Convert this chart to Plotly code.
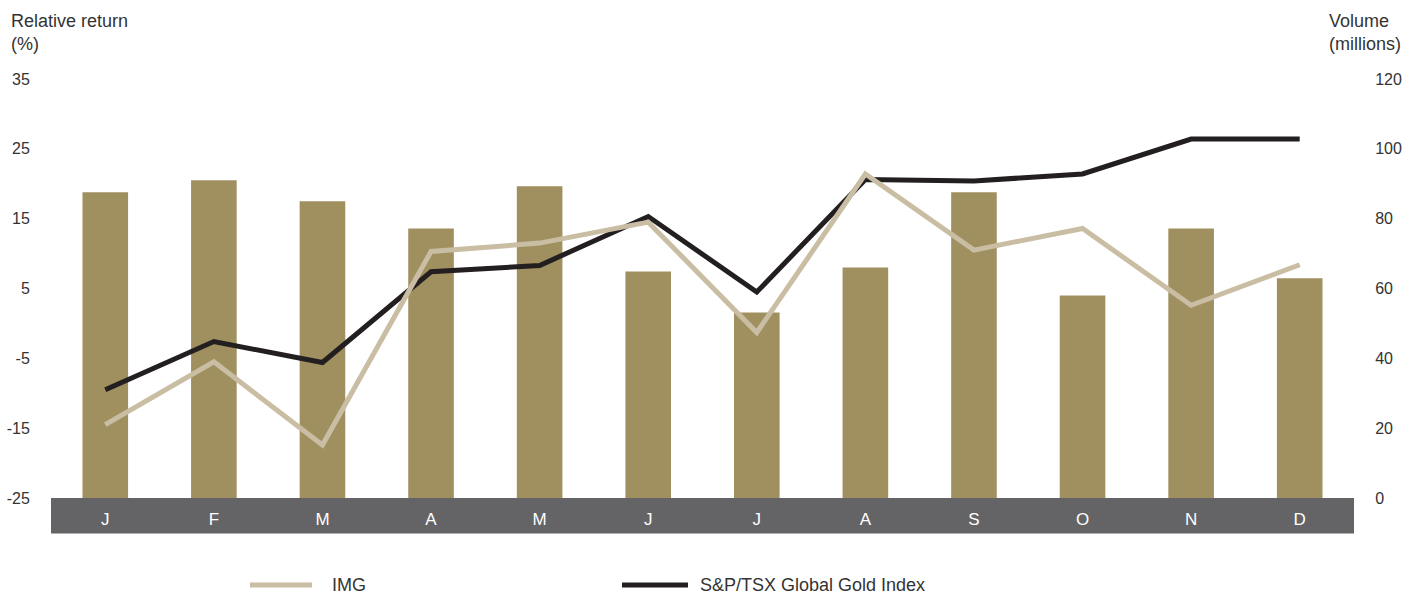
import plotly.graph_objects as go

# Monthly data
months = ["J", "F", "M", "A", "M", "J", "J", "A", "S", "O", "N", "D"]
volume_millions = [87.6, 91.0, 85.0, 77.2, 89.3, 64.9, 53.1, 66.0, 87.6, 58.0, 77.2, 62.9]
img_return = [-14.5, -5.5, -17.4, 10.3, 11.5, 14.5, -1.3, 21.4, 10.5, 13.6, 2.6, 8.4]
gold_index_return = [-9.5, -2.6, -5.6, 7.4, 8.3, 15.3, 4.5, 20.6, 20.4, 21.4, 26.4, 26.4]
series_names = ["IMG", "S&P/TSX Global Gold Index"]

left_ticks = [-25, -15, -5, 5, 15, 25, 35]
right_ticks = [0, 20, 40, 60, 80, 100, 120]

BAR = "#A08F5F"
BEIGE = "#C9BEA3"
BLACK = "#231F20"
BAND = "#646466"
TEXT = "#333333"
FONT = "Liberation Sans"

x_idx = list(range(len(months)))

fig = go.Figure()

# volume bars on the base (right-hand) axis so the return lines overlay them
fig.add_trace(go.Bar(
    x=x_idx, y=volume_millions, yaxis="y",
    marker=dict(color=BAR, line=dict(width=0)),
    width=0.42, showlegend=False, hoverinfo="skip",
))
fig.add_trace(go.Scatter(
    x=x_idx, y=gold_index_return, mode="lines", name=series_names[1], yaxis="y2",
    line=dict(color=BLACK, width=5), showlegend=False,
))
fig.add_trace(go.Scatter(
    x=x_idx, y=img_return, mode="lines", name=series_names[0], yaxis="y2",
    line=dict(color=BEIGE, width=5), showlegend=False,
))

W, H = 1405, 594
ML, MR, MT, MB = 51, 51, 79, 96
plot_h = H - MT - MB
band_px = 35.5

def px_to_paper_x(px):
    return (px - ML) / (W - ML - MR)
def px_to_paper_y(py):
    return (H - MB - py) / plot_h

shapes = [
    # dark band carrying the month labels
    dict(type="rect", xref="paper", yref="paper", x0=0, x1=1,
         y0=-band_px / plot_h, y1=0, fillcolor=BAND, line=dict(width=0),
         layer="below"),
]

# legend drawn with long line swatches
legend_y_px = 585
legend_items = [
    (series_names[0], BEIGE, 250, 312, 330),
    (series_names[1], BLACK, 622, 688, 698),
]
annotations = []
for name, color, x0, x1, tx in legend_items:
    shapes.append(dict(type="line", xref="paper", yref="paper",
                       x0=px_to_paper_x(x0), x1=px_to_paper_x(x1),
                       y0=px_to_paper_y(legend_y_px), y1=px_to_paper_y(legend_y_px),
                       line=dict(color=color, width=5)))
    annotations.append(dict(text=name, xref="paper", yref="paper",
                            x=px_to_paper_x(tx), y=px_to_paper_y(legend_y_px),
                            xanchor="left", yanchor="middle", showarrow=False,
                            font=dict(family=FONT, size=18, color=TEXT)))

# axis titles
annotations.append(dict(text="Relative return<br>(%)", xref="paper", yref="paper",
                        x=px_to_paper_x(9), y=px_to_paper_y(9),
                        xanchor="left", yanchor="top", align="left", showarrow=False,
                        font=dict(family=FONT, size=18, color=TEXT)))
annotations.append(dict(text="Volume<br>(millions)", xref="paper", yref="paper",
                        x=px_to_paper_x(1327), y=px_to_paper_y(9),
                        xanchor="left", yanchor="top", align="left", showarrow=False,
                        font=dict(family=FONT, size=18, color=TEXT)))

fig.update_layout(
    width=W, height=H,
    margin=dict(l=ML, r=MR, t=MT, b=MB, pad=0),
    paper_bgcolor="white", plot_bgcolor="white",
    font=dict(family=FONT, size=16, color=TEXT),
    xaxis=dict(
        tickmode="array", tickvals=x_idx, ticktext=months,
        range=[-0.5, len(months) - 0.5],
        showgrid=False, zeroline=False, showline=False, automargin=False,
        ticks="outside", ticklen=6, tickcolor="rgba(0,0,0,0)",
        tickfont=dict(family=FONT, size=17, color="white"),
    ),
    yaxis=dict(
        range=[0, 120], tickvals=right_ticks, side="right",
        showgrid=False, zeroline=False, showline=False, automargin=False,
        ticks="outside", ticklen=17, tickcolor="rgba(0,0,0,0)",
        tickfont=dict(family=FONT, size=16, color=TEXT),
    ),
    yaxis2=dict(
        range=[-25, 35], tickvals=left_ticks,
        ticktext=[str(v) for v in left_ticks],
        overlaying="y", side="left",
        showgrid=False, zeroline=False, showline=False, automargin=False,
        ticks="outside", ticklen=17, tickcolor="rgba(0,0,0,0)",
        tickfont=dict(family=FONT, size=16, color=TEXT),
    ),
    shapes=shapes,
    annotations=annotations,
    showlegend=False,
)

fig.write_html("out.html")
